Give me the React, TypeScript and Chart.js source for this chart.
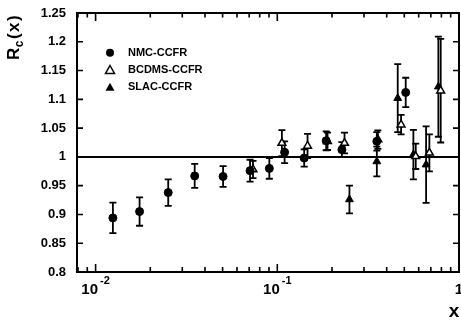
import { useEffect, useRef } from "react";
import { Chart, registerables } from "chart.js";

Chart.register(...registerables);

// ---- data ----
const nmcX = [0.01245, 0.01746, 0.0251, 0.0351, 0.0503, 0.0708, 0.0904, 0.1097, 0.1406, 0.1858, 0.2267, 0.353, 0.509];
const nmcY = [0.894, 0.905, 0.938, 0.967, 0.966, 0.976, 0.98, 1.008, 0.998, 1.028, 1.0125, 1.027, 1.112];
const nmcErr = [0.0265, 0.0246, 0.023, 0.021, 0.018, 0.019, 0.018, 0.019, 0.015, 0.0165, 0.013, 0.016, 0.0255];

const bcdmsX = [0.0735, 0.106, 0.1467, 0.189, 0.2344, 0.3575, 0.48, 0.578, 0.687, 0.793];
const bcdmsY = [0.978, 1.024, 1.019, 1.027, 1.024, 1.03, 1.056, 1.001, 1.007, 1.115];
const bcdmsErr = [0.015, 0.0225, 0.021, 0.015, 0.018, 0.016, 0.017, 0.022, 0.032, 0.09];

const slacX = [0.2495, 0.353, 0.46, 0.561, 0.659, 0.77];
const slacY = [0.926, 0.992, 1.102, 1.004, 0.9865, 1.122];
const slacErr = [0.024, 0.026, 0.059, 0.043, 0.0665, 0.087];

const seriesNames = ["NMC-CCFR", "BCDMS-CCFR", "SLAC-CCFR"];
const xMajorTicks = [0.01, 0.1, 1];
const xMajorLabels = [["10", "-2"], ["10", "-1"], ["1", ""]];
const xMinorMultipliers = [2, 3, 4, 5, 6, 7, 8, 9];
const xMinorDecades = [0.001, 0.01, 0.1];
const refLine = 1;
const xMin = 0.0079;
const xMax = 1;
const yMin = 0.8;
const yMax = 1.25;
const yStep = 0.05;

const errorSets = [nmcErr, bcdmsErr, slacErr];
const FONT = '"Liberation Sans", Arial, Helvetica, sans-serif';

function zip(xs: number[], ys: number[]) {
  return xs.map((x, i) => ({ x, y: ys[i] }));
}

const physPlugin = {
  id: "physPlugin",
  beforeDatasetsDraw(chart: any) {
    const { ctx, chartArea: a, scales } = chart;
    const x = scales.x;
    const y = scales.y;
    ctx.save();
    ctx.strokeStyle = "#000";
    // reference line
    ctx.lineWidth = 2;
    const y1 = y.getPixelForValue(refLine);
    ctx.beginPath();
    ctx.moveTo(a.left, y1);
    ctx.lineTo(a.right, y1);
    ctx.stroke();
    // error bars
    chart.data.datasets.forEach((ds: any, i: number) => {
      const errs = errorSets[i];
      ds.data.forEach((p: any, j: number) => {
        const px = x.getPixelForValue(p.x);
        const top = y.getPixelForValue(p.y + errs[j]);
        const bot = y.getPixelForValue(p.y - errs[j]);
        ctx.lineWidth = 1.8;
        ctx.beginPath();
        ctx.moveTo(px, top);
        ctx.lineTo(px, bot);
        ctx.moveTo(px - 3.5, top);
        ctx.lineTo(px + 3.5, top);
        ctx.moveTo(px - 3.5, bot);
        ctx.lineTo(px + 3.5, bot);
        ctx.stroke();
      });
    });
    ctx.restore();
  },
  afterDatasetsDraw(chart: any) {
    const { ctx, chartArea: a, scales } = chart;
    const x = scales.x;
    const y = scales.y;
    ctx.save();
    ctx.strokeStyle = "#000";
    ctx.fillStyle = "#000";
    // frame
    ctx.lineWidth = 2;
    ctx.strokeRect(a.left, a.top, a.right - a.left, a.bottom - a.top);

    // y ticks (inward, both sides)
    ctx.lineWidth = 1.6;
    y.ticks.forEach((t: any) => {
      const py = y.getPixelForValue(t.value);
      ctx.beginPath();
      ctx.moveTo(a.left, py);
      ctx.lineTo(a.left + 6, py);
      ctx.moveTo(a.right, py);
      ctx.lineTo(a.right - 6, py);
      ctx.stroke();
    });

    // x minor ticks
    xMinorDecades.forEach((d) => {
      xMinorMultipliers.forEach((m) => {
        const v = m * d;
        if (v < xMin || v > xMax) return;
        const px = x.getPixelForValue(v);
        ctx.beginPath();
        ctx.moveTo(px, a.bottom);
        ctx.lineTo(px, a.bottom - 5);
        ctx.moveTo(px, a.top);
        ctx.lineTo(px, a.top + 4.5);
        ctx.stroke();
      });
    });
    // x major ticks + labels
    xMajorTicks.forEach((v, i) => {
      const px = x.getPixelForValue(v);
      ctx.beginPath();
      ctx.moveTo(px, a.bottom);
      ctx.lineTo(px, a.bottom - 8);
      ctx.moveTo(px, a.top);
      ctx.lineTo(px, a.top + 8);
      ctx.stroke();
      const [base, sup] = xMajorLabels[i];
      ctx.font = `bold 15px ${FONT}`;
      const wb = ctx.measureText(base).width;
      ctx.font = `bold 11px ${FONT}`;
      const ws = sup ? ctx.measureText(sup).width + 2 : 0;
      const start = px - (wb + ws) / 2;
      ctx.textAlign = "left";
      ctx.textBaseline = "alphabetic";
      ctx.font = `bold 15px ${FONT}`;
      ctx.fillText(base, start, 294);
      if (sup) {
        ctx.font = `bold 11px ${FONT}`;
        ctx.fillText(sup, start + wb + 2, 284);
      }
    });

    // x title
    ctx.font = `bold 19px ${FONT}`;
    ctx.textAlign = "center";
    ctx.fillText("x", 454, 317);

    // y title R_c(x), rotated
    ctx.save();
    ctx.translate(19, 60);
    ctx.rotate(-Math.PI / 2);
    ctx.textAlign = "left";
    let cx = 0;
    ctx.font = `bold 17px ${FONT}`;
    ctx.fillText("R", cx, 0);
    cx += ctx.measureText("R").width + 0.5;
    ctx.font = `bold 12px ${FONT}`;
    ctx.fillText("c", cx, 4);
    cx += ctx.measureText("c").width + 1.5;
    ctx.font = `bold 17px ${FONT}`;
    ["(", "x", ")"].forEach((ch) => {
      ctx.fillText(ch, cx, 0);
      cx += ctx.measureText(ch).width + 1.5;
    });
    ctx.restore();

    // legend
    const ly = [52.7, 70, 87.3];
    const lx = 110;
    ly.forEach((yy, i) => {
      ctx.lineWidth = 1.5;
      if (i === 0) {
        ctx.beginPath();
        ctx.arc(lx, yy, 4, 0, Math.PI * 2);
        ctx.fill();
      } else {
        ctx.beginPath();
        ctx.moveTo(lx, yy - 4.5);
        ctx.lineTo(lx + 4.5, yy + 3.5);
        ctx.lineTo(lx - 4.5, yy + 3.5);
        ctx.closePath();
        if (i === 2) ctx.fill();
        else ctx.stroke();
      }
      ctx.font = `bold 11px ${FONT}`;
      ctx.textAlign = "left";
      ctx.textBaseline = "middle";
      ctx.fillText(seriesNames[i], 128, yy);
    });
    ctx.restore();
  },
};

export default function App() {
  const ref = useRef<HTMLCanvasElement | null>(null);
  useEffect(() => {
    if (!ref.current) return;
    const chart = new Chart(ref.current, {
      type: "scatter",
      data: {
        datasets: [
          {
            label: seriesNames[0],
            data: zip(nmcX, nmcY),
            pointStyle: "circle",
            pointRadius: 4,
            backgroundColor: "#000",
            borderColor: "#000",
            borderWidth: 1,
            clip: false,
          },
          {
            label: seriesNames[1],
            data: zip(bcdmsX, bcdmsY),
            pointStyle: "triangle",
            pointRadius: 4.5,
            backgroundColor: "#fff",
            borderColor: "#000",
            borderWidth: 1.5,
            clip: false,
          },
          {
            label: seriesNames[2],
            data: zip(slacX, slacY),
            pointStyle: "triangle",
            pointRadius: 4.5,
            backgroundColor: "#000",
            borderColor: "#000",
            borderWidth: 1,
            clip: false,
          },
        ],
      },
      options: {
        responsive: false,
        animation: false,
        devicePixelRatio: 1,
        layout: { autoPadding: false, padding: { left: 0, top: 13, right: 2, bottom: 0 } },
        plugins: { legend: { display: false }, tooltip: { enabled: false } },
        scales: {
          x: {
            type: "logarithmic",
            min: xMin,
            max: xMax,
            position: "bottom",
            grid: { display: false },
            border: { display: false },
            ticks: { display: false },
            afterFit: (s: any) => {
              s.height = 50;
            },
          },
          y: {
            type: "linear",
            min: yMin,
            max: yMax,
            position: "left",
            grid: { display: false },
            border: { display: false },
            ticks: {
              stepSize: yStep,
              color: "#000",
              padding: 3,
              font: { family: FONT, size: 13, weight: "bold" },
              callback: (v: any) => String(+Number(v).toFixed(2)),
            },
            afterFit: (s: any) => {
              s.width = 77;
            },
          },
        },
      } as any,
      plugins: [physPlugin],
    });
    return () => chart.destroy();
  }, []);
  return (
    <div style={{ position: "absolute", left: 0, top: 0, width: 461, height: 322, background: "#fff" }}>
      <canvas ref={ref} width={461} height={322} />
    </div>
  );
}
